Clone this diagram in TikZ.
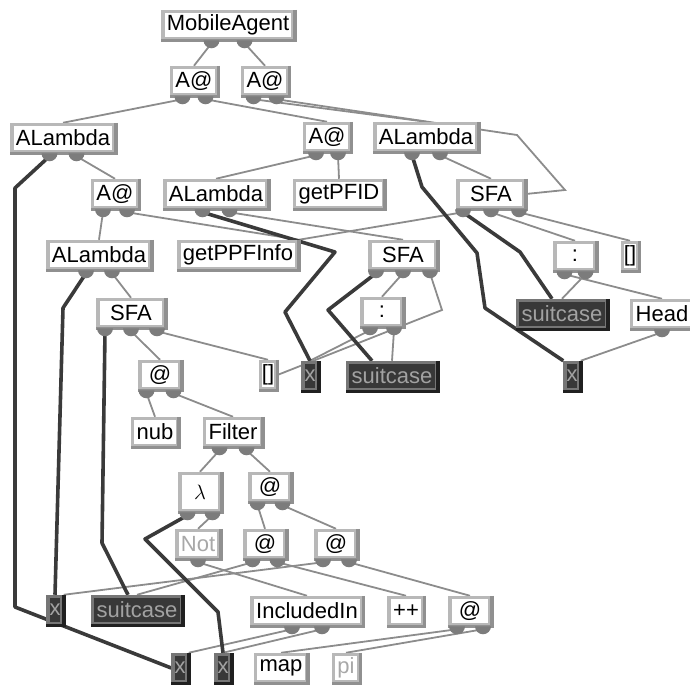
\documentclass[tikz,border=0pt]{standalone}
\usepackage{fontspec}
\setmainfont{Liberation Sans}
\usetikzlibrary{calc,backgrounds}

\definecolor{boxgray}{HTML}{B8B8B8}
\definecolor{boxshade}{HTML}{909090}
\definecolor{portgray}{HTML}{7C7C7C}
\definecolor{wiregray}{HTML}{8C8C8C}
\definecolor{binddark}{HTML}{3A3A3A}
\definecolor{vardark}{HTML}{383838}
\definecolor{varedge}{HTML}{767676}
\definecolor{varshade}{HTML}{202020}
\definecolor{vartext}{HTML}{A2A2A2}
\definecolor{dimtext}{HTML}{A8A8A8}

% bumps under a box, one per argument: name, count, spacing (pt)
\newcommand\ports[3]{%
  \foreach \k in {1,...,#2}{%
    \coordinate (#1-\k) at ([xshift={(\k-(#2+1)/2)*#3*1pt},yshift=-3pt]#1.south);
    \fill[portgray] ([xshift={((\k-(#2+1)/2)*#3-8)*1pt}]#1.south)
      arc[start angle=180,end angle=360,x radius=8pt,y radius=8pt] -- cycle;
  }}

\begin{document}
\begin{tikzpicture}[x=1pt,y=-1pt,
    term/.style={draw=boxgray,line width=3.5pt,fill=white,text=black,
      inner xsep=4pt,inner ysep=0pt,minimum height=27pt,
      font=\fontsize{22}{24}\selectfont},
    var/.style={term,fill=vardark,draw=varedge,text=vartext},
    dim/.style={term,text=dimtext},
    wide/.style={minimum width=66pt},
    app/.style={minimum width=40pt},
    cons/.style={minimum width=40pt},
    slim/.style={inner xsep=1.5pt},
    bevel/.style={draw=boxshade,line width=3.5pt},
    wire/.style={draw=wiregray,line width=1.8pt},
    bind/.style={draw=binddark,line width=3.6pt,line join=round}]
\useasboundingbox (0,0) rectangle (690,686);

% boxes, row by row
\node[term] (ma) at (228,25) {MobileAgent};
\node[term] (apL) at (194,81) {A@};
\node[term] (apR) at (265,81) {A@};
\node[term] (lam1) at (63,138) {ALambda};
\node[term] (apM) at (327,137) {A@};
\node[term] (lam2) at (426,137) {ALambda};
\node[term] (apA) at (115,194) {A@};
\node[term] (lam3) at (216,194) {ALambda};
\node[term] (pfid) at (339,194) {getPFID};
\node[term,wide] (sfa1) at (491,194) {SFA};
\node[term] (lam4) at (99,255) {ALambda};
\node[term] (ppf) at (238,255) {getPPFInfo};
\node[term,wide] (sfa2) at (403,255) {SFA};
\node[term,cons] (consR) at (575,256) {:};
\node[term,slim] (nilR) at (630,256) {[]};
\node[term,wide] (sfa3) at (131,313) {SFA};
\node[term,cons] (consM) at (382,312) {:};
\node[var] (scR) at (562,314) {suitcase};
\node[term] (head) at (662,314) {Head};
\node[term,app] (ap6) at (160,375) {@};
\node[term,slim] (nil6) at (268,375) {[]};
\node[var,slim] (x6) at (310,376) {x};
\node[var] (scM) at (392,376) {suitcase};
\node[var,slim] (xR) at (572,376) {x};
\node[term] (nub) at (155,432) {nub};
\node[term] (filt) at (233,432) {Filter};
\node[term,cons,minimum height=37pt] (lamb) at (200,492) {$\lambda$};
\node[term,app] (ap8) at (270,487) {@};
\node[dim] (not) at (198,544) {Not};
\node[term,app] (ap9a) at (265,544) {@};
\node[term,app] (ap9b) at (336,544) {@};
\node[var,slim] (x10) at (55,610) {x};
\node[var] (sc10) at (137,610) {suitcase};
\node[term] (incl) at (307,611) {IncludedIn};
\node[term] (cat) at (406,611) {++};
\node[term,app] (ap10) at (470,611) {@};
\node[var,slim] (xb1) at (180,668) {x};
\node[var,slim] (xb2) at (223,668) {x};
\node[term] (map) at (281,668) {map};
\node[dim] (pi) at (346,668) {pi};

% darker right and bottom edges
\foreach \n in {ma,apL,apR,lam1,apM,lam2,apA,lam3,pfid,sfa1,lam4,ppf,sfa2,
    consR,nilR,sfa3,consM,head,ap6,nil6,nub,filt,lamb,ap8,not,ap9a,ap9b,
    incl,cat,ap10,map,pi}
  \draw[bevel] (\n.north east) -- (\n.south east) -- (\n.south west);
\foreach \n in {scR,x6,scM,xR,x10,sc10,xb1,xb2}
  \draw[bevel,draw=varshade] (\n.north east) -- (\n.south east) -- (\n.south west);

% argument bumps
\ports{ma}{2}{33}
\ports{apL}{2}{23}
\ports{apR}{2}{23}
\ports{lam1}{2}{27}
\ports{apM}{2}{22}
\ports{lam2}{2}{28}
\ports{apA}{2}{24}
\ports{lam3}{2}{27}
\ports{sfa1}{3}{28}
\ports{lam4}{2}{26}
\ports{sfa2}{3}{27}
\ports{consR}{2}{21}
\ports{sfa3}{3}{26}
\ports{consM}{2}{24}
\ports{head}{1}{0}
\ports{ap6}{2}{27}
\ports{filt}{2}{27}
\ports{lamb}{2}{25}
\ports{ap8}{2}{25}
\ports{not}{1}{0}
\ports{ap9a}{2}{25}
\ports{ap9b}{2}{26}
\ports{incl}{2}{30}
\ports{ap10}{2}{26}

\begin{scope}[on background layer]
  % argument wires
  \draw[wire] (ma-1) -- (apL.north);
  \draw[wire] (ma-2) -- (apR.north);
  \draw[wire] (apL-1) -- (lam1.north);
  \draw[wire] (apL-2) -- (apM.north);
  \draw[wire] (apR-1) -- (lam2.north);
  \draw[wire] (apR-2) -- (517,135) -- (565,190) -- (sfa1.east);
  \draw[wire] (lam1-2) -- (apA.north);
  \draw[wire] (apM-1) -- (lam3.north);
  \draw[wire] (apM-2) -- (pfid.north);
  \draw[wire] (lam2-2) -- (sfa1.north);
  \draw[wire] (apA-1) -- (lam4.north);
  \draw[wire] (apA-2) -- (ppf.north east);
  \draw[wire] (lam3-2) -- (sfa2.north);
  \draw[wire] (sfa1-1) -- (ppf.north east);
  \draw[wire] (sfa1-2) -- (consR.north);
  \draw[wire] (sfa1-3) -- (nilR.north);
  \draw[wire] (lam4-2) -- (sfa3.north);
  \draw[wire] (sfa2-2) -- (consM.north);
  \draw[wire] (sfa2-3) -- (442,310) -- (nil6.east);
  \draw[wire] (consR-1) -- (head.north);
  \draw[wire] (consR-2) -- (scR.north);
  \draw[wire] (sfa3-2) -- (ap6.north);
  \draw[wire] (sfa3-3) -- (nil6.north);
  \draw[wire] (consM-1) -- (x6.north);
  \draw[wire] (consM-2) -- (scM.north);
  \draw[wire] (head-1) -- (xR.north east);
  \draw[wire] (ap6-1) -- (nub.north);
  \draw[wire] (ap6-2) -- (filt.north);
  \draw[wire] (filt-1) -- (lamb.north);
  \draw[wire] (filt-2) -- (ap8.north);
  \draw[wire] (lamb-2) -- (not.north);
  \draw[wire] (ap8-1) -- (ap9a.north);
  \draw[wire] (ap8-2) -- (ap9b.north);
  \draw[wire] (not-1) -- (incl.north);
  \draw[wire] (ap9a-1) -- (sc10.north);
  \draw[wire] (ap9a-2) -- (cat.north);
  \draw[wire] (ap9b-1) -- (x10.north east);
  \draw[wire] (ap9b-2) -- (ap10.north);
  \draw[wire] (incl-1) -- (xb1.north east);
  \draw[wire] (incl-2) -- (xb2.north);
  \draw[wire] (ap10-1) -- (map.north);
  \draw[wire] (ap10-2) -- (pi.north);
  % binders to the variables they bind
  \draw[bind] (lam1-1) -- (15,188) -- (15,607) -- (xb1.west);
  \draw[bind] (lam4-1) -- (63,308) -- (x10.north);
  \draw[bind] (lam3-1) -- (335,252) -- (285,312) -- (x6.north);
  \draw[bind] (lam2-1) -- (422,187) -- (477,253) -- (485,308) -- (xR.north west);
  \draw[bind] (sfa1-1) -- (520,252) -- ([xshift=-10pt]scR.north);
  \draw[bind] (sfa2-1) -- (328,310) -- ([xshift=-20pt]scM.north);
  \draw[bind] (sfa3-1) -- (102,543) -- ([xshift=-9pt]sc10.north);
  \draw[bind] (lamb-1) -- (145,539) -- (218,612) -- (xb2.north);
\end{scope}
\end{tikzpicture}
\end{document}
